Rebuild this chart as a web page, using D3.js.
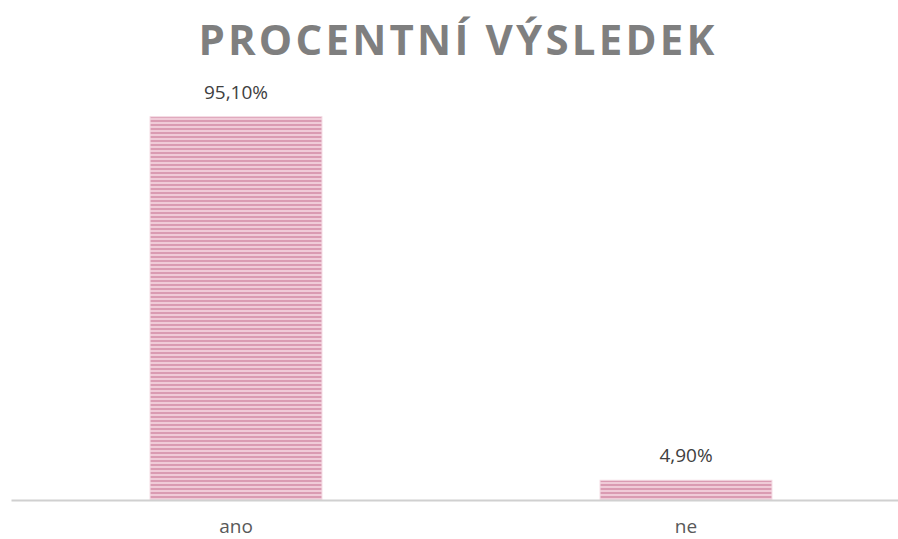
<!DOCTYPE html>
<html>
<head>
<meta charset="utf-8">
<script src="https://cdn.jsdelivr.net/npm/d3@7"></script>
<style>
  body { margin: 0; background: #fff; }
</style>
</head>
<body>
<div id="chart"></div>
<script>
const categories = ["ano", "ne"];
const values = [95.1, 4.9];
const valueLabels = ["95,10%", "4,90%"];
const chartTitle = "PROCENTNÍ VÝSLEDEK";

const totalWidth = 898;
const totalHeight = 539;
const baseY = 500;

const svg = d3
  .select("#chart")
  .append("svg")
  .attr("width", totalWidth)
  .attr("height", totalHeight)
  .style("font-family", "'Open Sans', sans-serif");

// striped fill like the excel pattern
const defs = svg.append("defs");
const pat = defs
  .append("pattern")
  .attr("id", "stripes")
  .attr("patternUnits", "userSpaceOnUse")
  .attr("width", 8)
  .attr("height", 4);
pat.append("rect").attr("width", 8).attr("height", 4).attr("fill", "#f0cbd8");
pat.append("rect").attr("y", 0).attr("width", 8).attr("height", 2).attr("fill", "#da9bb2");

const xScale = d3
  .scaleBand()
  .domain(categories)
  .range([11, 911])
  .paddingInner(0.618)
  .paddingOuter(0.309);

const yScale = d3.scaleLinear().domain([0, 100]).range([baseY, 97]);

svg
  .append("text")
  .attr("x", 458)
  .attr("y", 55)
  .attr("text-anchor", "middle")
  .attr("font-size", "42px")
  .attr("font-weight", "700")
  .attr("letter-spacing", "3.2px")
  .attr("fill", "#7f7f7f")
  .text(chartTitle);

svg
  .selectAll("rect.bar")
  .data(values)
  .join("rect")
  .attr("class", "bar")
  .attr("x", (d, i) => xScale(categories[i]))
  .attr("y", (d) => yScale(d))
  .attr("width", xScale.bandwidth())
  .attr("height", (d) => baseY - yScale(d))
  .attr("fill", "url(#stripes)")
  .attr("stroke", "#f3d9e2")
  .attr("stroke-width", 1);

svg
  .selectAll("text.val")
  .data(values)
  .join("text")
  .attr("class", "val")
  .attr("x", (d, i) => xScale(categories[i]) + xScale.bandwidth() / 2)
  .attr("y", (d) => yScale(d) - 18)
  .attr("text-anchor", "middle")
  .attr("font-size", "19px")
  .attr("fill", "#404040")
  .text((d, i) => valueLabels[i]);

// category labels sit just above the bottom edge
const xAxis = d3.axisBottom(xScale).tickSize(0).tickPadding(20);
const axisG = svg
  .append("g")
  .attr("transform", `translate(0,${baseY})`)
  .call(xAxis);
axisG.select(".domain").attr("stroke", "#d0d0d0").attr("stroke-width", 2);
axisG
  .selectAll("text")
  .attr("font-size", "19px")
  .attr("font-family", "'Open Sans', sans-serif")
  .attr("fill", "#595959");
</script>
</body>
</html>
